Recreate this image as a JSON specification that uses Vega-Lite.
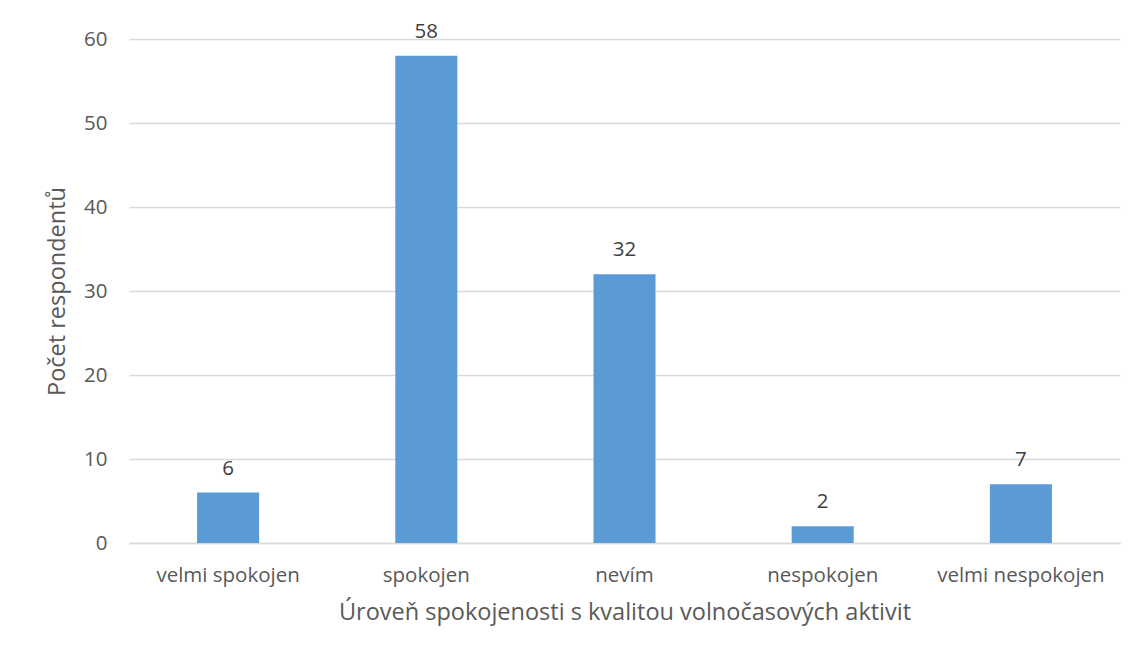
{
  "$schema": "https://vega.github.io/schema/vega-lite/v6.json",
  "width": 991,
  "height": 504,
  "autosize": {"type": "none"},
  "padding": {"left": 129, "top": 39, "right": 18, "bottom": 111},
  "background": "white",
  "config": {
    "view": {"stroke": null},
    "font": "Open Sans"
  },
  "data": {
    "values": [
      {"kategorie": "velmi spokojen", "pocet": 6},
      {"kategorie": "spokojen", "pocet": 58},
      {"kategorie": "nevím", "pocet": 32},
      {"kategorie": "nespokojen", "pocet": 2},
      {"kategorie": "velmi nespokojen", "pocet": 7}
    ]
  },
  "encoding": {
    "x": {
      "field": "kategorie",
      "type": "nominal",
      "sort": null,
      "scale": {"paddingInner": 0.687, "paddingOuter": 0.3435},
      "axis": {
        "title": "Úroveň spokojenosti s kvalitou volnočasových aktivit",
        "labelAngle": 0,
        "labelFontSize": 20.5,
        "labelColor": "#595959",
        "labelPadding": 22,
        "ticks": false,
        "domainColor": "#D9D9D9",
        "domainWidth": 1.5,
        "titleFontSize": 23.5,
        "titleFontWeight": "normal",
        "titleColor": "#595959",
        "titlePadding": 15
      }
    },
    "y": {
      "field": "pocet",
      "type": "quantitative",
      "scale": {"domain": [0, 60]},
      "axis": {
        "title": "Počet respondentů",
        "values": [0, 10, 20, 30, 40, 50, 60],
        "labelFontSize": 20.5,
        "labelColor": "#595959",
        "labelPadding": 22,
        "ticks": false,
        "domain": false,
        "gridColor": "#D9D9D9",
        "gridWidth": 1.5,
        "titleFontSize": 23.5,
        "titleFontWeight": "normal",
        "titleColor": "#595959",
        "titlePadding": 14
      }
    }
  },
  "layer": [
    {"mark": {"type": "bar", "color": "#5B9BD5"}},
    {
      "mark": {"type": "text", "dy": -24, "fontSize": 20.5, "color": "#404040", "baseline": "middle"},
      "encoding": {"text": {"field": "pocet", "type": "quantitative"}}
    }
  ]
}
